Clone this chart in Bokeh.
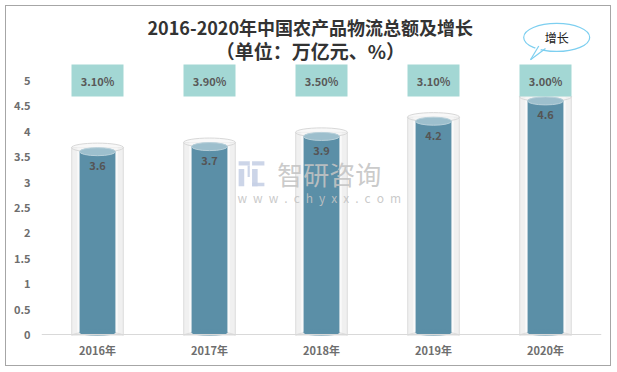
from bokeh.plotting import figure
from bokeh.models import (Range1d, FixedTicker, Label, ColumnDataSource, LabelSet, Span)
from bokeh.core.properties import value
from bokeh.embed import file_html
from bokeh.resources import INLINE

# ---- data ----
years = ["2016年", "2017年", "2018年", "2019年", "2020年"]
totals = [3.6, 3.7, 3.9, 4.2, 4.6]
growth = ["3.10%", "3.90%", "3.50%", "3.10%", "3.00%"]
y_ticks = [0, 0.5, 1, 1.5, 2, 2.5, 3, 3.5, 4, 4.5, 5]

FONT = "Noto Sans CJK SC"
GROWTH_ROW = 5.0

idx = list(range(len(years)))
tops = [v + 0.08 for v in totals]
src = ColumnDataSource(dict(x=idx, total=totals, glass_top=tops,
                            lbl=[str(v) for v in totals], growth=growth,
                            gy=[GROWTH_ROW] * len(years)))

p = figure(width=606, height=361, output_backend="svg", toolbar_location=None,
           x_range=Range1d(-0.5, 4.5), y_range=Range1d(-0.02, 6.40),
           min_border_left=35, min_border_right=11, min_border_top=3,
           min_border_bottom=32)
p.styles = {"border": "1px solid #A6A6A6", "margin-left": "5px", "margin-top": "5px"}
p.outline_line_color = None
p.grid.visible = False
p.background_fill_color = "white"

# axes
p.yaxis.ticker = FixedTicker(ticks=y_ticks)
p.yaxis.major_label_overrides = {t: (str(t) if t != int(t) else str(int(t))) for t in y_ticks}
p.yaxis.axis_line_color = None
p.yaxis.major_tick_line_color = None
p.yaxis.minor_tick_line_color = None
p.yaxis.major_label_text_font = FONT
p.yaxis.major_label_text_font_size = "11px"
p.yaxis.major_label_text_font_style = "bold"
p.yaxis.major_label_text_color = "#6E6E6E"
p.yaxis.major_label_standoff = 5

p.xaxis.ticker = FixedTicker(ticks=idx)
p.xaxis.major_label_overrides = {i: y for i, y in zip(idx, years)}
p.xaxis.axis_line_color = None
p.xaxis.major_tick_line_color = None
p.xaxis.minor_tick_line_color = None
p.xaxis.major_label_text_font = FONT
p.xaxis.major_label_text_font_size = "11px"
p.xaxis.major_label_text_font_style = "bold"
p.xaxis.major_label_text_color = "#6E6E6E"
p.xaxis.major_label_standoff = 0

# baseline
p.add_layout(Span(location=0, dimension="width", line_color="#D9D9D9", line_width=1))

# glass cylinders
p.vbar(x="x", top="glass_top", bottom=-0.03, width=0.46, source=src,
       fill_color="#F0F0F0", line_color="#DCDCDC", line_width=1)
p.vbar(x="x", top="glass_top", bottom=-0.03, width=0.36, source=src,
       fill_color="#FAFAFA", line_color=None)
p.ellipse(x="x", y=-0.03, width=52, height=9, width_units="screen", height_units="screen",
          source=src, fill_color="#F0F0F0", line_color="#DCDCDC")

# inner bars
p.vbar(x="x", top="total", bottom=0.04, width=0.32, source=src,
       fill_color="#5B8FA7", line_color=None)
p.ellipse(x="x", y=0.04, width=36, height=7, width_units="screen", height_units="screen",
          source=src, fill_color="#5B8FA7", line_color=None)
# glass top rim
p.ellipse(x="x", y="glass_top", width=52, height=9, width_units="screen", height_units="screen",
          source=src, fill_color="#F4F4F4", fill_alpha=0.6, line_color="#D8D8D8")
p.ellipse(x="x", y="total", width=36, height=8, width_units="screen", height_units="screen",
          source=src, fill_color="#9DBFCD", line_color="#B8D0DA")

# value labels
p.add_layout(LabelSet(x="x", y="total", text="lbl", source=src, y_offset=-14,
                      text_align="center", text_baseline="middle",
                      text_font=value(FONT), text_font_size="11px",
                      text_font_style="bold", text_color="#555555"))

# growth boxes
p.rect(x="x", y="gy", width=52, height=32, width_units="screen", height_units="screen",
       source=src, fill_color="#A3D7D4", line_color=None)
p.text(x="x", y="gy", text="growth", source=src, text_align="center",
       text_baseline="middle", text_font=value(FONT), text_font_size="11px",
       text_font_style="bold", text_color="#595959")

# speech bubble
p.ellipse(x=[4.1], y=[5.85], width=66, height=28, width_units="screen", height_units="screen",
          fill_color="white", line_color="#7DCFF0", line_width=1.2)
p.patch(x=[3.93, 3.866, 4.02], y=[5.75, 5.41, 5.75], fill_color="white", line_color=None)
p.multi_line(xs=[[3.94, 3.866], [3.866, 4.0]], ys=[[5.68, 5.41], [5.41, 5.63]],
             line_color="#7DCFF0", line_width=1.2)
p.text(x=[4.1], y=[5.85], text=["增长"], text_align="center", text_baseline="middle",
       text_font=value(FONT), text_font_size="12px", text_color="#222222")

# watermark logo (rough blocks)
p.quad(left=[1.26, 1.26, 1.34, 1.38, 1.38, 1.38],
       right=[1.36, 1.31, 1.36, 1.49, 1.43, 1.49],
       bottom=[3.33, 2.92, 3.10, 3.33, 2.92, 2.92],
       top=[3.41, 3.26, 3.33, 3.41, 3.26, 2.99],
       fill_color="#C6D0E6", line_color=None, fill_alpha=0.9)
p.add_layout(Label(x=2.07, y=3.17, text="智研咨询", text_align="center", text_baseline="middle",
                   text_font=FONT, text_font_size="26px", text_color="#C4C4C4", text_alpha=0.9))
wm = "\u2002".join(list("www.chyxx.com"))
p.add_layout(Label(x=1.98, y=2.69, text=wm, text_align="center",
                   text_baseline="middle", text_font=FONT, text_font_size="12px",
                   text_color="#C4C4C4", text_alpha=0.9))

# title
p.add_layout(Label(x=1.9, y=6.05, text="2016-2020年中国农产品物流总额及增长", text_align="center",
                   text_baseline="middle", text_font=FONT, text_font_size="18px",
                   text_font_style="bold", text_color="#333333"))
p.add_layout(Label(x=1.9, y=5.6, text="（单位：万亿元、%）", text_align="center",
                   text_baseline="middle", text_font=FONT, text_font_size="19px",
                   text_font_style="bold", text_color="#333333"))

open("out.html", "w").write(file_html(p, INLINE))
